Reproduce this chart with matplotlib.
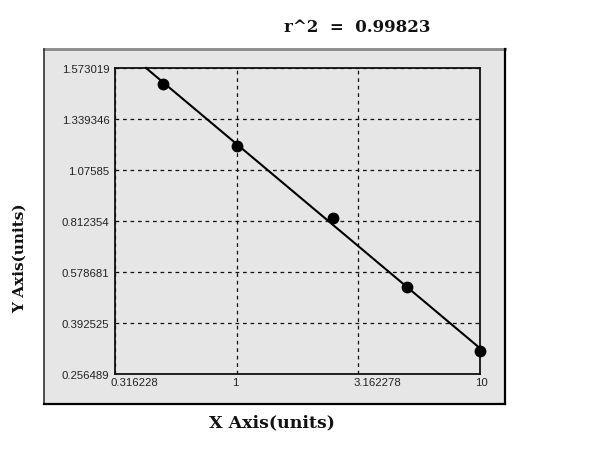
import numpy as np
import matplotlib
matplotlib.use('Agg')
import matplotlib.pyplot as plt
import matplotlib.transforms as mtransforms
from matplotlib.patches import Rectangle
from matplotlib.ticker import FixedLocator, FixedFormatter, NullLocator

# standard curve points
x_conc = [0.5, 1.0, 2.5, 5.0, 10.0]
y_od = [1.499, 1.198, 0.828, 0.523, 0.317]

# axis ticks (y gridlines are evenly spaced in the original software)
x_ticks = [0.316228, 1.0, 3.162278, 10.0]
x_labels = ['0.316228', '1', '3.162278', '10']
y_ticks = [0.256489, 0.392525, 0.578681, 0.812354, 1.07585, 1.339346, 1.573019]
y_labels = ['0.256489', '0.392525', '0.578681', '0.812354', '1.07585',
            '1.339346', '1.573019']
r2_text = 'r^2  =  0.99823'

grey = '#e6e6e6'
idx = np.arange(len(y_ticks), dtype=float)


def fwd(v):
    return np.interp(v, y_ticks, idx)


def inv(t):
    return np.interp(t, idx, y_ticks)


fig = plt.figure(figsize=(6, 4.52), dpi=100)
fig.patch.set_facecolor('white')

# grey outer panel
x0, x1 = 44 / 600, 505 / 600
y0, y1 = 1 - 405 / 452, 1 - 50 / 452
panel = Rectangle((x0, y0), x1 - x0, y1 - y0, transform=fig.transFigure,
                  facecolor=grey, edgecolor='none', zorder=-10)
fig.add_artist(panel)
for xs, ys, c, w in [([x0, x1], [y1, y1], '#888888', 2),
                     ([x0, x0], [y0, y1], '#333333', 1.2),
                     ([x1, x1], [y0, y1], 'black', 1.6),
                     ([x0, x1], [y0, y0], 'black', 1.6)]:
    fig.add_artist(plt.Line2D(xs, ys, transform=fig.transFigure,
                              color=c, lw=w, zorder=-9))

ax = fig.add_axes([115 / 600, 1 - 375 / 452, 365 / 600, 306 / 452])
ax.set_facecolor(grey)
ax.set_xscale('log')
ax.set_yscale('function', functions=(fwd, inv))
ax.set_xlim(x_ticks[0], x_ticks[-1])
ax.set_ylim(y_ticks[0], y_ticks[-1])

ax.xaxis.set_major_locator(FixedLocator(x_ticks))
ax.xaxis.set_major_formatter(FixedFormatter(x_labels))
ax.xaxis.set_minor_locator(NullLocator())
ax.yaxis.set_major_locator(FixedLocator(y_ticks))
ax.yaxis.set_major_formatter(FixedFormatter(y_labels))
ax.yaxis.set_minor_locator(NullLocator())

ax.tick_params(length=0, labelsize=8.2, colors='#222222')
ax.tick_params(axis='y', pad=4)
ax.tick_params(axis='x', pad=2)
for lab in ax.get_xticklabels() + ax.get_yticklabels():
    lab.set_family('Liberation Sans')
offset = mtransforms.ScaledTranslation(-0.05, 0, fig.dpi_scale_trans)
for lab in ax.get_xticklabels():
    lab.set_horizontalalignment('left')
    lab.set_transform(lab.get_transform() + offset)

ax.grid(True, color='#111111', linestyle=(0, (3, 3)), linewidth=0.9)
for sp in ax.spines.values():
    sp.set_linewidth(1.3)
    sp.set_color('#111111')

# linear fit in the (log x, grid-index) space, drawn as a straight line
lx = np.log10(x_conc)
m, b = np.polyfit(lx, fwd(np.array(y_od)), 1)
x_start = 10 ** ((idx[-1] - b) / m)
x_fit = [x_start, x_conc[-1]]
y_fit = inv(m * np.log10(x_fit) + b)
ax.plot(x_fit, y_fit, color='black', lw=1.5, zorder=3, clip_on=False)
ax.plot(x_conc, y_od, 'o', color='black', ms=7.5, zorder=4, clip_on=False)

fig.text(357 / 600, 1 - 27 / 452, r2_text, ha='center', va='center',
         family='DejaVu Serif', weight='bold', fontsize=12,
         color='#111111')
fig.text(272 / 600, 1 - 423 / 452, 'X Axis(units)', ha='center',
         va='center', family='DejaVu Serif', weight='bold',
         fontsize=12.5, color='#111111')
fig.text(20 / 600, 1 - 258 / 452, 'Y Axis(units)', ha='center',
         va='center', rotation=90, family='DejaVu Serif',
         weight='bold', fontsize=11, color='#111111')

fig.savefig('out.png', dpi=100, facecolor='white')
